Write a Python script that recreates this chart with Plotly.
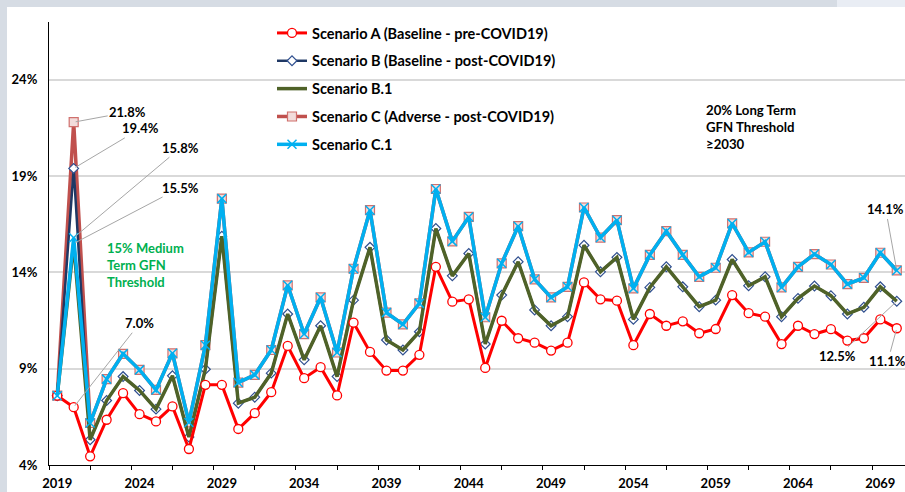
import plotly.graph_objects as go

years = list(range(2019, 2071))

scenario_a = [7.6, 7.0, 4.45, 6.35, 7.73, 6.64, 6.26, 7.04, 4.83, 8.16, 8.16, 5.87, 6.69,
              7.78, 10.18, 8.51, 9.08, 7.61, 11.39, 9.87, 8.90, 8.90, 9.72, 14.29, 12.48, 12.60,
              9.04, 11.49, 10.58, 10.35, 9.94, 10.35, 13.48, 12.60, 12.53, 10.22, 11.84, 11.23,
              11.46, 10.84, 11.06, 12.82, 11.88, 11.70, 10.28, 11.23, 10.80, 11.05, 10.46, 10.58, 11.56, 11.1]

scenario_b = [7.6, 19.4, 5.31, 7.35, 8.59, 7.87, 6.90, 8.63, 5.45, 8.97, 15.88, 7.21, 7.52,
              8.77, 11.84, 9.46, 11.23, 8.59, 12.56, 15.30, 10.49, 9.97, 10.92, 16.28, 13.82, 14.98,
              10.28, 12.82, 14.55, 12.05, 11.23, 11.70, 15.41, 14.03, 14.78, 11.56, 13.22, 14.29,
              13.25, 12.22, 12.56, 14.67, 13.31, 13.77, 11.70, 12.65, 13.29, 12.79, 11.84, 12.19, 13.25, 12.5]

scenario_b1 = [7.6, 15.5, 5.31, 7.35, 8.59, 7.87, 6.90, 8.63, 5.45, 8.97, 15.88, 7.21, 7.52,
               8.77, 11.84, 9.46, 11.23, 8.59, 12.56, 15.30, 10.49, 9.97, 10.92, 16.28, 13.82, 14.98,
               10.28, 12.82, 14.55, 12.05, 11.23, 11.70, 15.41, 14.03, 14.78, 11.56, 13.22, 14.29,
               13.25, 12.22, 12.56, 14.67, 13.31, 13.77, 11.70, 12.65, 13.29, 12.79, 11.84, 12.19, 13.25, 12.5]

scenario_c = [7.6, 21.8, 6.18, 8.46, 9.77, 8.94, 7.90, 9.80, 6.21, 10.22, 17.83, 8.28, 8.68,
              9.97, 13.33, 10.80, 12.70, 9.84, 14.19, 17.23, 11.91, 11.30, 12.39, 18.33, 15.61, 16.88,
              11.67, 14.47, 16.40, 13.64, 12.70, 13.25, 17.37, 15.81, 16.71, 13.17, 14.91, 16.14,
              14.91, 13.77, 14.24, 16.54, 15.04, 15.59, 13.22, 14.29, 14.95, 14.41, 13.39, 13.72, 15.02, 14.1]

scenario_c1 = [7.6, 15.8, 6.18, 8.46, 9.77, 8.94, 7.90, 9.80, 6.21, 10.22, 17.83, 8.28, 8.68,
               9.97, 13.33, 10.80, 12.70, 9.84, 14.19, 17.23, 11.91, 11.30, 12.39, 18.33, 15.61, 16.88,
               11.67, 14.47, 16.40, 13.64, 12.70, 13.25, 17.37, 15.81, 16.71, 13.17, 14.91, 16.14,
               14.91, 13.77, 14.24, 16.54, 15.04, 15.59, 13.22, 14.29, 14.95, 14.41, 13.39, 13.72, 15.02, 14.1]

names = ["Scenario A (Baseline - pre-COVID19)",
         "Scenario B (Baseline - post-COVID19)",
         "Scenario B.1",
         "Scenario C (Adverse - post-COVID19)",
         "Scenario C.1"]

x_tick_years = list(range(2019, 2070, 5))
y_tick_vals = [4, 9, 14, 19, 24]
y_tick_text = ["4%", "9%", "14%", "19%", "24%"]

FONT = "Lato"

fig = go.Figure()

# Scenario C (bottom)
fig.add_trace(go.Scatter(
    x=years, y=scenario_c, name=names[3], mode="lines+markers", legendrank=4, legendgroup="c",
    line=dict(color="#c0504d", width=3.5),
    marker=dict(symbol="square", size=9, color="#f2dcdb", line=dict(color="#d0706d", width=1.2))))
# Scenario B
fig.add_trace(go.Scatter(
    x=years, y=scenario_b, name=names[1], mode="lines+markers", legendrank=2, legendgroup="b",
    line=dict(color="#1f3864", width=2.5),
    marker=dict(symbol="diamond", size=7.5, color="white", line=dict(color="#2f4f8f", width=1.2))))
# Scenario B.1
fig.add_trace(go.Scatter(
    x=years, y=scenario_b1, name=names[2], mode="lines", legendrank=3, legendgroup="b1",
    line=dict(color="#4f6228", width=3.5)))
# Scenario A
fig.add_trace(go.Scatter(
    x=years, y=scenario_a, name=names[0], mode="lines+markers", legendrank=1, legendgroup="a",
    line=dict(color="#ff0000", width=3),
    marker=dict(symbol="circle", size=9, color="white", line=dict(color="#ff0000", width=1.3))))
# Scenario C.1 (top)
fig.add_trace(go.Scatter(
    x=years, y=scenario_c1, name=names[4], mode="lines+markers", legendrank=5, legendgroup="c1",
    line=dict(color="#00b0f0", width=3.5),
    marker=dict(symbol="x-thin", size=9, line=dict(color="#00b0f0", width=1.5))))

def label(x, y, text, ax, ay):
    return dict(x=x, y=y, xref="x", yref="y", text="<b>%s</b>" % text, showarrow=True,
                arrowhead=0, arrowwidth=1, arrowcolor="#a6a6a6", ax=ax, ay=ay, standoff=2,
                xanchor="center", yanchor="middle",
                font=dict(family=FONT, size=13, color="#000000"))

annotations = [
    label(years[1], scenario_c[1], "21.8%", 54, -10),
    label(years[1], scenario_b[1], "19.4%", 67, -40),
    label(years[1], scenario_c1[1], "15.8%", 107, -90),
    label(years[1], scenario_b1[1], "15.5%", 107, -56),
    label(years[1], scenario_a[1], "7.0%", 66, -84),
    label(years[-1], scenario_c[-1], "14.1%", -11, -61),
    label(years[-1], scenario_b[-1], "12.5%", -59, 55),
    label(years[-1], scenario_a[-1], "11.1%", -9, 33),
]

L, T, W, H = 49, 22, 856, 443

def px_x(p):
    return (p - L) / W

def px_y(p):
    return 1 - (p - T) / H

annotations += [
    dict(x=px_x(105), y=px_y(238), xref="paper", yref="paper",
         text="<b>15% Medium<br>Term GFN<br>Threshold</b>",
         showarrow=False, align="left", xanchor="left", yanchor="top",
         font=dict(family=FONT, size=13, color="#00b050")),
    dict(x=px_x(704), y=px_y(100), xref="paper", yref="paper",
         text="<b>20% Long Term<br>GFN Threshold<br>≥2030</b>",
         showarrow=False, align="left", xanchor="left", yanchor="top",
         font=dict(family=FONT, size=13.2, color="#000000")),
]

shapes = [
    dict(type="rect", xref="paper", yref="paper", x0=px_x(7), x1=px_x(910),
         y0=px_y(500), y1=px_y(7), fillcolor="white", line=dict(width=0), layer="below"),
    dict(type="rect", xref="paper", yref="paper", x0=px_x(837), x1=px_x(910),
         y0=px_y(7), y1=px_y(-5), fillcolor="#e9edf4", line=dict(width=0), layer="below"),
]

fig.update_layout(
    width=905, height=492, autosize=False,
    margin=dict(l=L, r=0, t=T, b=492 - T - H, pad=0, autoexpand=False),
    paper_bgcolor="#d6dce4", plot_bgcolor="white",
    font=dict(family=FONT, size=13, color="#000000", weight="bold"),
    showlegend=True,
    legend=dict(x=px_x(272), y=px_y(17), xref="paper", yref="paper",
                xanchor="left", yanchor="top", bgcolor="rgba(0,0,0,0)",
                font=dict(family=FONT, size=14.5, color="#000000", weight="bold"),
                tracegroupgap=6, itemwidth=30, traceorder="grouped"),
    annotations=annotations,
    shapes=shapes,
    xaxis=dict(range=[2018.5, 2070.5], tickmode="array", tickvals=x_tick_years,
               ticktext=[str(v) for v in x_tick_years], ticks="", showgrid=False, zeroline=False,
               showline=True, linecolor="#000000", linewidth=1.2, tickangle=0, automargin=False,
               ticklabelstandoff=6,
               minor=dict(tickmode="linear", tick0=2018.5, dtick=2.5, ticks="outside", ticklen=4,
                          tickcolor="#000000", tickwidth=1, showgrid=False),
               tickfont=dict(family=FONT, size=13, color="#000000", weight="bold")),
    yaxis=dict(range=[4, 27], tickmode="array", tickvals=y_tick_vals, ticktext=y_tick_text,
               ticks="", showgrid=True, gridcolor="#d9d9d9", gridwidth=1.5, zeroline=False,
               showline=True, linecolor="#000000", linewidth=1.2, ticklabelstandoff=8,
               automargin=False,
               tickfont=dict(family=FONT, size=13, color="#000000", weight="bold")),
)

fig.write_html("out.html", config={"displayModeBar": False},
               post_script="document.body.style.margin='0px';")
